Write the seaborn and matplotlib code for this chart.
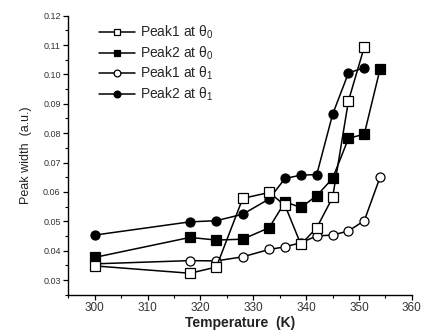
import matplotlib
matplotlib.use("Agg")
import matplotlib.pyplot as plt
from matplotlib.ticker import MultipleLocator, FormatStrFormatter
import seaborn as sns
import pandas as pd

# Measured peak widths vs. temperature
temp_p1_t0 = [300, 318, 323, 328, 333, 336, 339, 342, 345, 348, 351]
width_p1_t0 = [0.0348, 0.0323, 0.0344, 0.0578, 0.0598, 0.0554, 0.0421, 0.0478, 0.0581, 0.0910, 0.1094]

temp_p2_t0 = [300, 318, 323, 328, 333, 336, 339, 342, 345, 348, 351, 354]
width_p2_t0 = [0.0377, 0.0445, 0.0436, 0.0439, 0.0478, 0.0566, 0.0547, 0.0587, 0.0646, 0.0782, 0.0797, 0.1020]

temp_p1_t1 = [300, 318, 323, 328, 333, 336, 339, 342, 345, 348, 351, 354]
width_p1_t1 = [0.0355, 0.0366, 0.0365, 0.0379, 0.0404, 0.0413, 0.0427, 0.0450, 0.0453, 0.0467, 0.0502, 0.0651]

temp_p2_t1 = [300, 318, 323, 328, 333, 336, 339, 342, 345, 348, 351]
width_p2_t1 = [0.0453, 0.0498, 0.0502, 0.0524, 0.0576, 0.0646, 0.0657, 0.0659, 0.0864, 0.1005, 0.1023]

labels = ["Peak1 at θ$_0$", "Peak2 at θ$_0$", "Peak1 at θ$_1$", "Peak2 at θ$_1$"]
x_ticks = [300, 310, 320, 330, 340, 350, 360]
y_ticks = [0.03, 0.04, 0.05, 0.06, 0.07, 0.08, 0.09, 0.10, 0.11, 0.12]

sns.set_theme(style="ticks")
plt.rcParams["font.family"] = ["Liberation Sans", "DejaVu Sans"]
plt.rcParams["mathtext.fontset"] = "custom"
plt.rcParams["mathtext.rm"] = "Liberation Sans"
plt.rcParams["mathtext.it"] = "Liberation Sans:italic"
plt.rcParams["mathtext.bf"] = "Liberation Sans:bold"

fig = plt.figure(figsize=(4.22, 3.34), dpi=100)
ax = fig.add_axes([0.162, 0.1177, 0.814, 0.8353])

series = [
    (temp_p1_t0, width_p1_t0, "s", "white", labels[0]),
    (temp_p2_t0, width_p2_t0, "s", "black", labels[1]),
    (temp_p1_t1, width_p1_t1, "o", "white", labels[2]),
    (temp_p2_t1, width_p2_t1, "o", "black", labels[3]),
]

for order in [3, 2, 1, 0]:
    t, w, mk, fc, lab = series[order]
    df = pd.DataFrame({"T": t, "w": w})
    sns.lineplot(data=df, x="T", y="w", ax=ax, color="black", linewidth=1.1,
                 marker=mk, markersize=6.5, markerfacecolor=fc,
                 markeredgecolor="black", markeredgewidth=0.9,
                 estimator=None, sort=False, label=lab, legend=False)

line_map = {ln.get_label(): ln for ln in ax.get_lines()}
handles = [line_map[l] for l in labels]

ax.set_xlim(295, 360)
ax.set_ylim(0.025, 0.12)
ax.set_xticks(x_ticks)
ax.set_yticks(y_ticks)
ax.xaxis.set_minor_locator(MultipleLocator(5))
ax.yaxis.set_minor_locator(MultipleLocator(0.005))
ax.yaxis.set_major_formatter(FormatStrFormatter("%.2f"))

ax.tick_params(axis="both", which="major", direction="out", length=3.5, width=0.9, color="black")
ax.tick_params(axis="both", which="minor", direction="out", length=2, width=0.8, color="black")
ax.tick_params(axis="x", labelsize=8.5, labelcolor="#333333", pad=2)
ax.tick_params(axis="y", labelsize=6.5, labelcolor="#333333", pad=2)

sns.despine(ax=ax)
for s in ["left", "bottom"]:
    ax.spines[s].set_linewidth(1.0)
    ax.spines[s].set_color("black")

ax.set_xlabel("Temperature  (K)", fontsize=10, fontweight="bold", color="#222222", labelpad=1)
ax.set_ylabel("Peak width  (a.u.)", fontsize=9, color="#222222", labelpad=8)

ax.legend(handles=handles, labels=labels, loc="upper left",
          bbox_to_anchor=(0.07, 0.995), frameon=False, fontsize=10,
          handlelength=2.6, handletextpad=0.3, labelspacing=0.22,
          borderpad=0, numpoints=1, markerscale=0.75)

fig.savefig("out.png", dpi=100)
